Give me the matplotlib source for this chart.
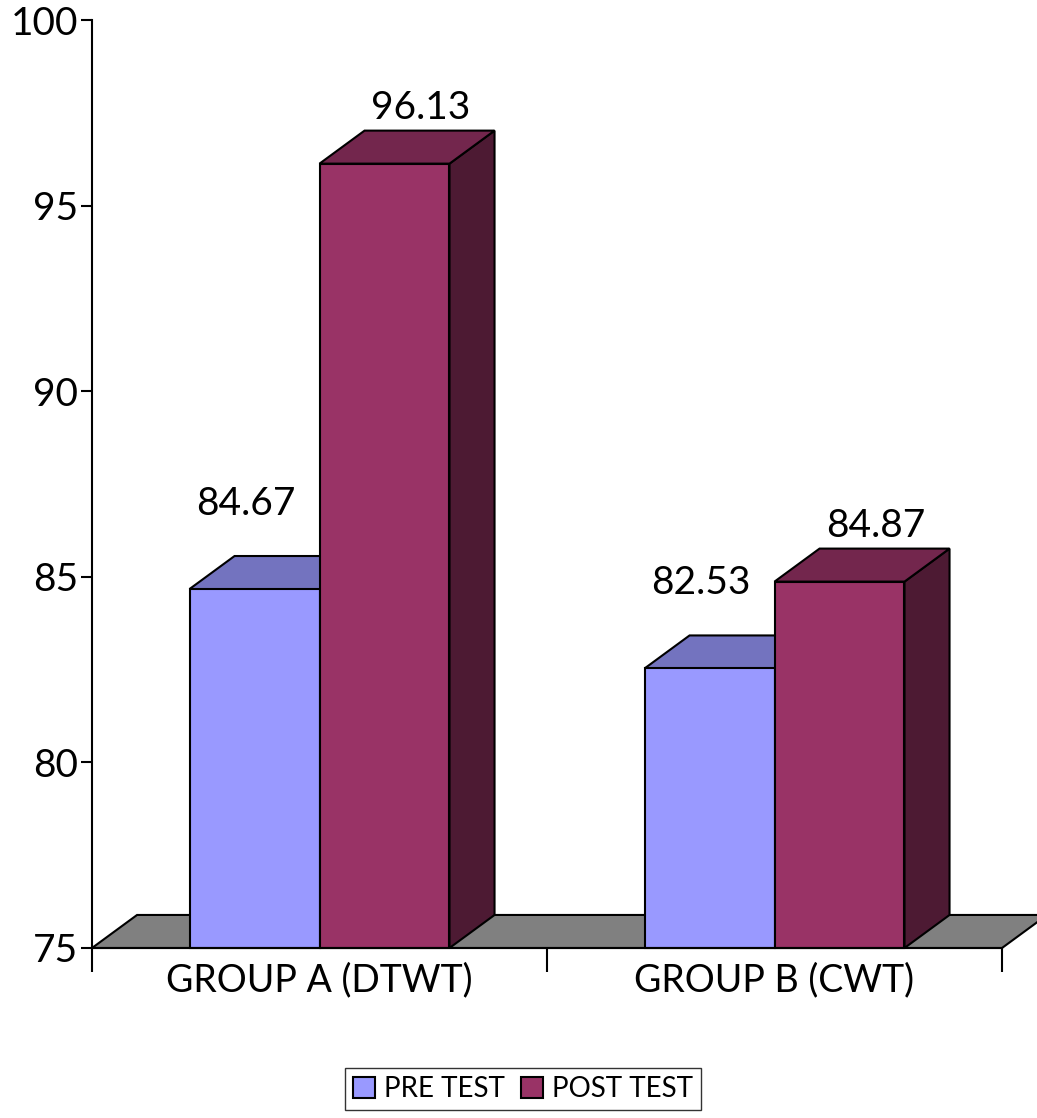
import matplotlib.pyplot as plt
from matplotlib.patches import Polygon, Patch

plt.rcParams["font.family"] = ["Lato", "DejaVu Sans"]

groups = ["GROUP A (DTWT)", "GROUP B (CWT)"]
series = ["PRE TEST", "POST TEST"]
pre_test = [84.67, 82.53]
post_test = [96.13, 84.87]

FRONT = {"PRE TEST": "#9999FF", "POST TEST": "#993366"}
TOP = {"PRE TEST": "#7373BF", "POST TEST": "#73264D"}
SIDE = {"PRE TEST": "#4D4D80", "POST TEST": "#4D1A33"}

Y0, Y1 = 75, 100
BAR_W = 0.2857
DX, DY = 0.099, 0.89   # depth offset of the 3d faces, in data units
LW = 1.5


def draw_box(ax, x0, x1, top, name):
    side = [(x1, Y0), (x1 + DX, Y0 + DY), (x1 + DX, top + DY), (x1, top)]
    roof = [(x0, top), (x0 + DX, top + DY), (x1 + DX, top + DY), (x1, top)]
    front = [(x0, Y0), (x1, Y0), (x1, top), (x0, top)]
    for pts, col in ((side, SIDE[name]), (roof, TOP[name]), (front, FRONT[name])):
        ax.add_patch(Polygon(pts, closed=True, facecolor=col, edgecolor="black",
                             linewidth=LW, clip_on=False, zorder=3))


fig = plt.figure(figsize=(10.37, 11.18), dpi=100)
ax = fig.add_axes([92 / 1037, 170 / 1118, 910 / 1037, 928 / 1118])
ax.set_xlim(0, 2)
ax.set_ylim(Y0, Y1)

# grey floor under the bars
floor = [(0, Y0), (2, Y0), (2 + DX, Y0 + DY), (DX, Y0 + DY)]
ax.add_patch(Polygon(floor, closed=True, facecolor="#808080", edgecolor="black",
                     linewidth=LW, clip_on=False, zorder=2))

for i in range(len(groups)):
    c = i + 0.5
    draw_box(ax, c - BAR_W, c, pre_test[i], "PRE TEST")
    draw_box(ax, c, c + BAR_W, post_test[i], "POST TEST")
    ax.text(c - BAR_W / 2 - 0.02, pre_test[i] + 2.3, f"{pre_test[i]:.2f}",
            ha="center", va="center", fontsize=28)
    ax.text(c + BAR_W / 2 + 0.08, post_test[i] + 1.5, f"{post_test[i]:.2f}",
            ha="center", va="center", fontsize=28)

for s in ("top", "right"):
    ax.spines[s].set_visible(False)
for s in ("left", "bottom"):
    ax.spines[s].set_linewidth(LW)
    ax.spines[s].set_zorder(4)

ax.set_yticks(range(Y0, Y1 + 1, 5))
ax.tick_params(axis="y", labelsize=28, length=8, width=LW, pad=2)
ax.set_xticks([0, 1, 2])
ax.set_xticklabels([])
ax.tick_params(axis="x", which="major", length=17, width=LW)
ax.set_xticks([0.5, 1.5], minor=True)
ax.set_xticklabels(groups, minor=True)
ax.tick_params(axis="x", which="minor", length=0, labelsize=27, pad=10)

handles = [Patch(facecolor=FRONT[s], edgecolor="black", linewidth=LW) for s in series]
fig.legend(handles, series, loc="center", bbox_to_anchor=(523 / 1037, 1 - 1089 / 1118),
           ncol=2, fontsize=20, frameon=True, fancybox=False, edgecolor="black",
           handlelength=0.8, handleheight=0.8, handletextpad=0.3, columnspacing=0.6,
           borderpad=0.3)

fig.savefig("out.png", dpi=100)
